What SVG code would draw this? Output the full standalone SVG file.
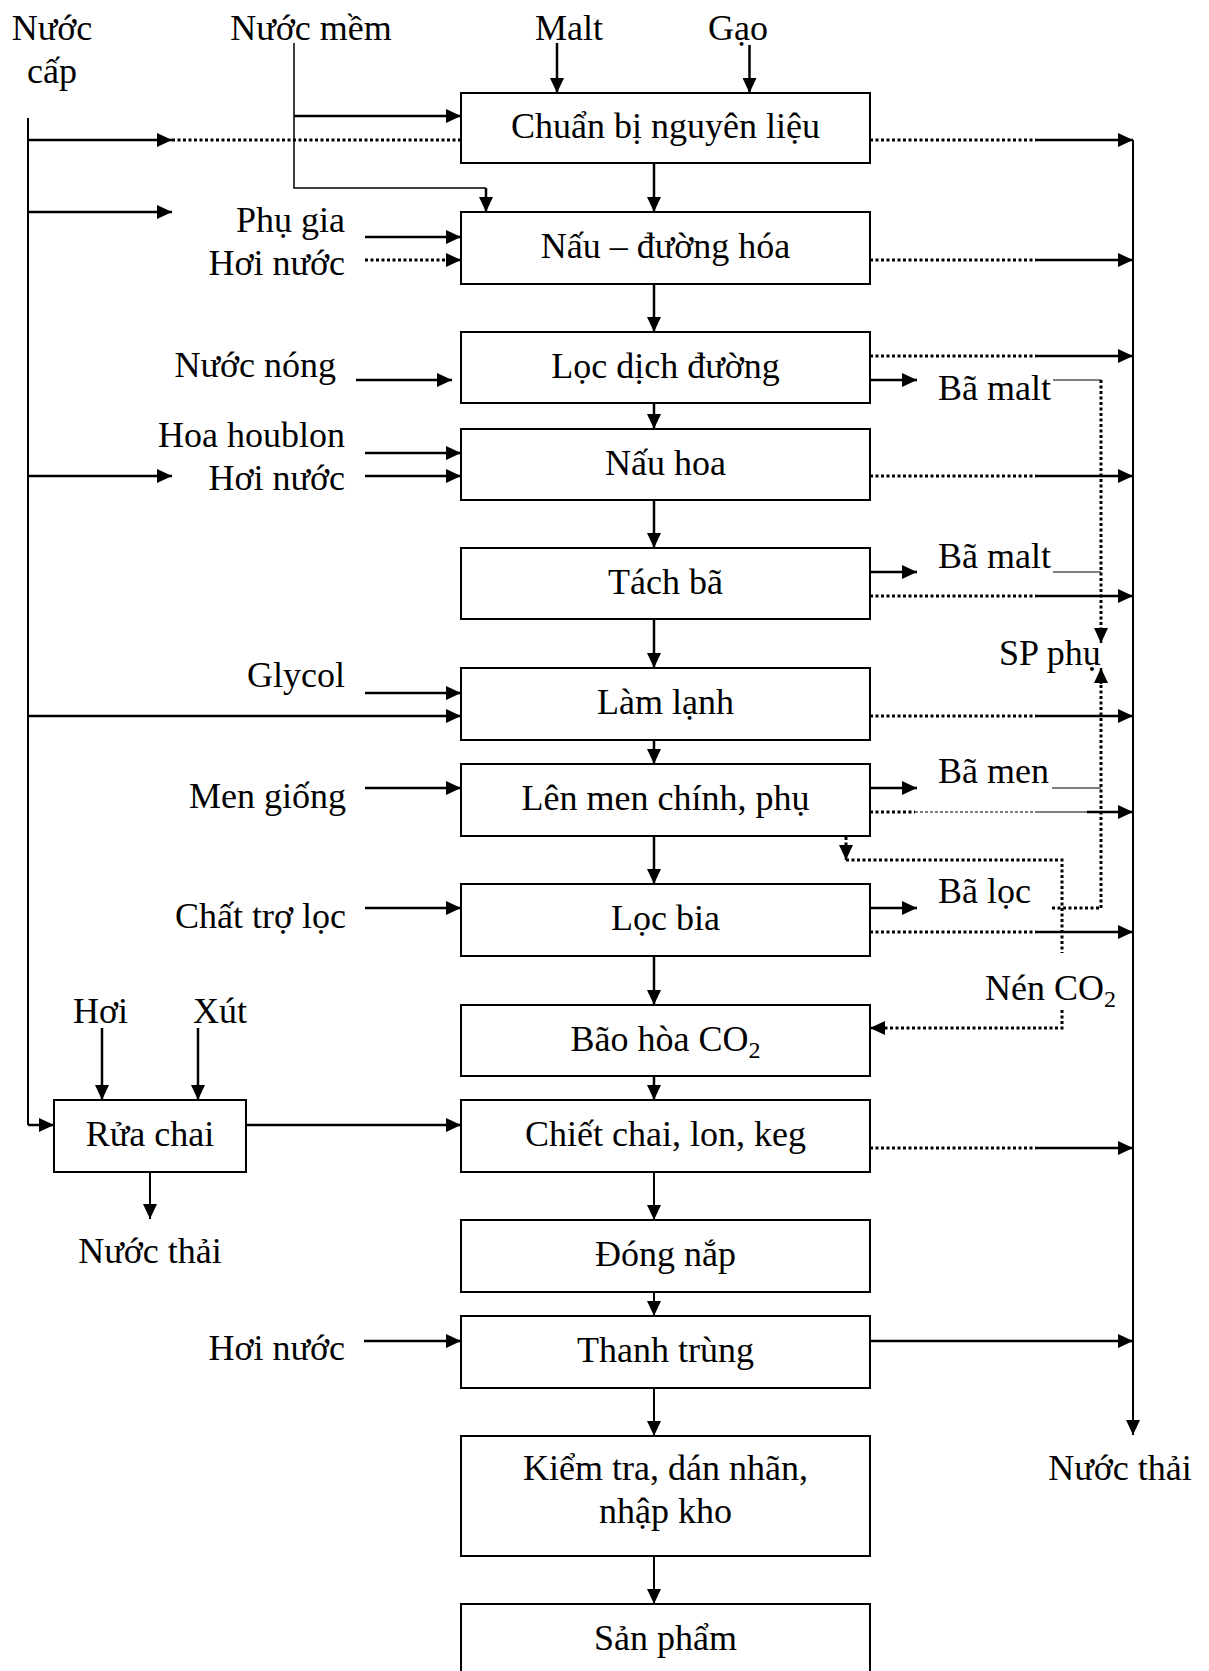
<svg xmlns="http://www.w3.org/2000/svg" width="1209" height="1671" viewBox="0 0 1209 1671">
<defs>
<style>
.bx{fill:#fff;stroke:#000;stroke-width:2}
.t{font-family:"Liberation Serif","Times New Roman",serif;font-size:36px;fill:#000}
.c{text-anchor:middle}
.e{text-anchor:end}
.ln{stroke:#000;stroke-width:2.5;fill:none}
.lg{stroke:#000;stroke-width:2;fill:none}
.th{stroke:#000;stroke-width:1.5;fill:none}
.hr{stroke:#000;stroke-width:1;fill:none}
.dt{stroke:#000;stroke-width:3;stroke-dasharray:3 2.5;fill:none}
.dl{stroke:#000;stroke-width:1.2;stroke-dasharray:3 2;fill:none}
</style>
<marker id="ah" markerUnits="userSpaceOnUse" markerWidth="15" markerHeight="14" refX="15" refY="7" orient="auto">
<path d="M0,0 L15,7 L0,14 z" fill="#000"/>
</marker>
</defs>
<rect width="1209" height="1671" fill="#fff"/>

<g id="connectors">
<path class="ln" d="M557 43 V93" marker-end="url(#ah)"/>
<path class="ln" d="M749.5 45 V93" marker-end="url(#ah)"/>
<path class="th" d="M294 43 V188 H486"/>
<path class="ln" d="M486 188 V212" marker-end="url(#ah)"/>
<path class="ln" d="M294 116 H461" marker-end="url(#ah)"/>
<path class="lg" d="M28 118 V1125"/>
<path class="ln" d="M28 140 H172" marker-end="url(#ah)"/>
<path class="dt" d="M172 140 H461"/>
<path class="ln" d="M28 212 H172" marker-end="url(#ah)"/>
<path class="ln" d="M28 476 H172" marker-end="url(#ah)"/>
<path class="ln" d="M28 716 H461" marker-end="url(#ah)"/>
<path class="ln" d="M28 1125 H54" marker-end="url(#ah)"/>
<path class="ln" d="M365 237 H461" marker-end="url(#ah)"/>
<path class="dt" d="M365 260 H447"/>
<path class="ln" d="M447 260 H461" marker-end="url(#ah)"/>
<path class="ln" d="M356 380 H452" marker-end="url(#ah)"/>
<path class="ln" d="M365 453 H461" marker-end="url(#ah)"/>
<path class="ln" d="M365 476 H461" marker-end="url(#ah)"/>
<path class="ln" d="M365 693 H461" marker-end="url(#ah)"/>
<path class="ln" d="M365 788 H461" marker-end="url(#ah)"/>
<path class="ln" d="M365 908 H461" marker-end="url(#ah)"/>
<path class="ln" d="M364 1341 H461" marker-end="url(#ah)"/>
<path class="ln" d="M102 1028 V1100" marker-end="url(#ah)"/>
<path class="ln" d="M198 1028 V1100" marker-end="url(#ah)"/>
<path class="ln" d="M246 1125 H461" marker-end="url(#ah)"/>
<path class="lg" d="M150 1172 V1219" marker-end="url(#ah)"/>
<path class="ln" d="M654 163 V212" marker-end="url(#ah)"/>
<path class="ln" d="M654 284 V332" marker-end="url(#ah)"/>
<path class="ln" d="M654 403 V429" marker-end="url(#ah)"/>
<path class="ln" d="M654 500 V548" marker-end="url(#ah)"/>
<path class="ln" d="M654 619 V668" marker-end="url(#ah)"/>
<path class="ln" d="M654 740 V764" marker-end="url(#ah)"/>
<path class="ln" d="M654 836 V884" marker-end="url(#ah)"/>
<path class="ln" d="M654 956 V1005" marker-end="url(#ah)"/>
<path class="ln" d="M654 1076 V1100" marker-end="url(#ah)"/>
<path class="lg" d="M654 1172 V1220" marker-end="url(#ah)"/>
<path class="lg" d="M654 1292 V1316" marker-end="url(#ah)"/>
<path class="lg" d="M654 1388 V1436" marker-end="url(#ah)"/>
<path class="lg" d="M654 1556 V1604" marker-end="url(#ah)"/>
<path class="lg" d="M1133 140 V1435" marker-end="url(#ah)"/>
<path class="dt" d="M870 140 H1036"/><path class="ln" d="M1036 140 H1133" marker-end="url(#ah)"/>
<path class="dt" d="M870 260 H1036"/><path class="ln" d="M1036 260 H1133" marker-end="url(#ah)"/>
<path class="dt" d="M870 356 H1036"/><path class="ln" d="M1036 356 H1133" marker-end="url(#ah)"/>
<path class="dt" d="M870 476 H1036"/><path class="ln" d="M1036 476 H1133" marker-end="url(#ah)"/>
<path class="dt" d="M870 596 H1036"/><path class="ln" d="M1036 596 H1133" marker-end="url(#ah)"/>
<path class="dt" d="M870 716 H1036"/><path class="ln" d="M1036 716 H1133" marker-end="url(#ah)"/>
<path class="dt" d="M870 812 H915"/><path class="dl" d="M915 812 H1035"/><path class="hr" d="M1035 812 H1087"/><path class="ln" d="M1087 812 H1133" marker-end="url(#ah)"/>
<path class="dt" d="M870 932 H1036"/><path class="ln" d="M1036 932 H1133" marker-end="url(#ah)"/>
<path class="dt" d="M870 1148 H1036"/><path class="ln" d="M1036 1148 H1133" marker-end="url(#ah)"/>
<path class="ln" d="M870 1341 H1133" marker-end="url(#ah)"/>
<path class="ln" d="M870 380 H917" marker-end="url(#ah)"/>
<path class="ln" d="M870 572 H917" marker-end="url(#ah)"/>
<path class="ln" d="M870 788 H917" marker-end="url(#ah)"/>
<path class="ln" d="M870 908 H917" marker-end="url(#ah)"/>
<path class="hr" d="M1053 380 H1101"/>
<path class="hr" d="M1053 572 H1101"/>
<path class="hr" d="M1052 788 H1101"/>
<path class="dt" d="M1052 908 H1101"/>
<path class="dt" d="M1101 380 V630"/><path class="ln" d="M1101 628 V643" marker-end="url(#ah)"/>
<path class="dt" d="M1101 908 V683"/><path class="ln" d="M1101 684 V668" marker-end="url(#ah)"/>
<path class="dt" d="M846 837 V847"/><path class="ln" d="M846 846 V860" marker-end="url(#ah)"/>
<path class="dt" d="M846 860 H1062 V953"/>
<path class="dt" d="M1062 1010 V1028 H884"/><path class="ln" d="M885 1028 H870" marker-end="url(#ah)"/>
</g>

<g id="n-nuoc-cap"><text class="t c" x="52" y="40">Nước</text><text class="t c" x="52" y="83">cấp</text></g>
<g id="n-nuoc-mem"><text class="t c" x="311" y="40">Nước mềm</text></g>
<g id="n-malt"><text class="t" x="535" y="40">Malt</text></g>
<g id="n-gao"><text class="t" x="708" y="40">Gạo</text></g>

<g id="b1"><rect class="bx" x="461" y="93" width="409" height="70"/><text class="t c" x="665.5" y="138">Chuẩn bị nguyên liệu</text></g>
<g id="b2"><rect class="bx" x="461" y="212" width="409" height="72"/><text class="t c" x="665.5" y="258">Nấu – đường hóa</text></g>
<g id="b3"><rect class="bx" x="461" y="332" width="409" height="71"/><text class="t c" x="665.5" y="378">Lọc dịch đường</text></g>
<g id="b4"><rect class="bx" x="461" y="429" width="409" height="71"/><text class="t c" x="665.5" y="475">Nấu hoa</text></g>
<g id="b5"><rect class="bx" x="461" y="548" width="409" height="71"/><text class="t c" x="665.5" y="594">Tách bã</text></g>
<g id="b6"><rect class="bx" x="461" y="668" width="409" height="72"/><text class="t c" x="665.5" y="714">Làm lạnh</text></g>
<g id="b7"><rect class="bx" x="461" y="764" width="409" height="72"/><text class="t c" x="665.5" y="810">Lên men chính, phụ</text></g>
<g id="b8"><rect class="bx" x="461" y="884" width="409" height="72"/><text class="t c" x="665.5" y="930">Lọc bia</text></g>
<g id="b9"><rect class="bx" x="461" y="1005" width="409" height="71"/><text class="t c" x="665.5" y="1051">Bão hòa CO<tspan font-size="24" dy="7">2</tspan></text></g>
<g id="b10"><rect class="bx" x="461" y="1100" width="409" height="72"/><text class="t c" x="665.5" y="1146">Chiết chai, lon, keg</text></g>
<g id="b11"><rect class="bx" x="461" y="1220" width="409" height="72"/><text class="t c" x="665.5" y="1266">Đóng nắp</text></g>
<g id="b12"><rect class="bx" x="461" y="1316" width="409" height="72"/><text class="t c" x="665.5" y="1362">Thanh trùng</text></g>
<g id="b13"><rect class="bx" x="461" y="1436" width="409" height="120"/><text class="t c" x="665.5" y="1480">Kiểm tra, dán nhãn,</text><text class="t c" x="665.5" y="1523">nhập kho</text></g>
<g id="b14"><rect class="bx" x="461" y="1604" width="409" height="72"/><text class="t c" x="665.5" y="1650">Sản phẩm</text></g>
<g id="rua-chai"><rect class="bx" x="54" y="1100" width="192" height="72"/><text class="t c" x="150" y="1146">Rửa chai</text></g>

<g id="l-phu-gia"><text class="t e" x="345" y="232">Phụ gia</text></g>
<g id="l-hoi-nuoc-1"><text class="t e" x="345" y="275">Hơi nước</text></g>
<g id="l-nuoc-nong"><text class="t e" x="336" y="377">Nước nóng</text></g>
<g id="l-hoa-houblon"><text class="t e" x="345" y="447">Hoa houblon</text></g>
<g id="l-hoi-nuoc-2"><text class="t e" x="345" y="490">Hơi nước</text></g>
<g id="l-glycol"><text class="t e" x="345" y="687">Glycol</text></g>
<g id="l-men-giong"><text class="t e" x="346" y="808">Men giống</text></g>
<g id="l-chat-tro-loc"><text class="t e" x="346" y="928">Chất trợ lọc</text></g>
<g id="l-hoi"><text class="t" x="73" y="1023">Hơi</text></g>
<g id="l-xut"><text class="t" x="193" y="1023">Xút</text></g>
<g id="l-nuoc-thai-1"><text class="t c" x="150" y="1263">Nước thải</text></g>
<g id="l-hoi-nuoc-3"><text class="t e" x="345" y="1360">Hơi nước</text></g>

<g id="r-ba-malt-1"><text class="t" x="938" y="400">Bã malt</text></g>
<g id="r-ba-malt-2"><text class="t" x="938" y="568">Bã malt</text></g>
<g id="r-sp-phu"><text class="t" x="999" y="665">SP phụ</text></g>
<g id="r-ba-men"><text class="t" x="938" y="783">Bã men</text></g>
<g id="r-ba-loc"><text class="t" x="938" y="903">Bã lọc</text></g>
<g id="r-nen-co2"><text class="t" x="985" y="1000">Nén CO<tspan font-size="24" dy="7">2</tspan></text></g>
<g id="r-nuoc-thai-2"><text class="t c" x="1120" y="1480">Nước thải</text></g>
</svg>
